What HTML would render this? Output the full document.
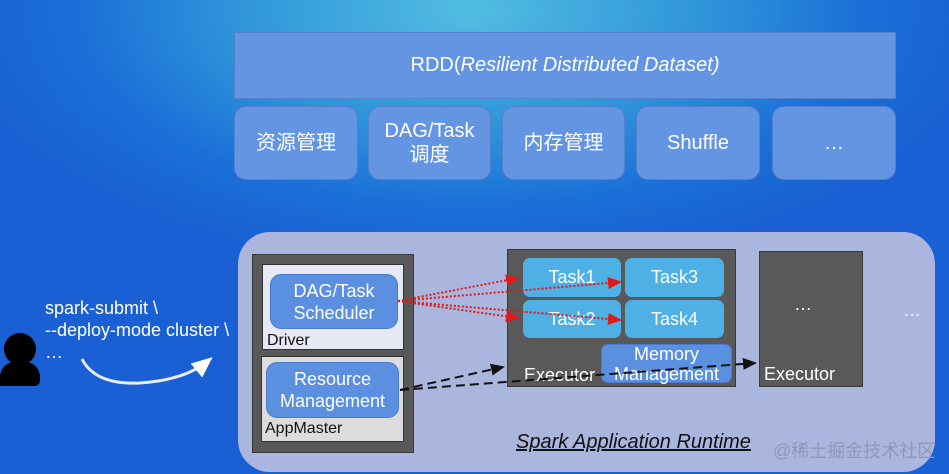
<!DOCTYPE html>
<html><head><meta charset="utf-8"><style>
*{margin:0;padding:0;box-sizing:border-box}
body{width:949px;height:474px;overflow:hidden;position:relative;font-family:"Liberation Sans","Noto Sans CJK SC",sans-serif;
background:radial-gradient(ellipse 520px 260px at 470px 10px,#52bde2 0%,#2f95da 45%,#1b70d8 75%,#1a60d4 100%);}
.a{position:absolute}
.bx{position:absolute;background:#6495e2;border:1px solid #5580cc;color:#fff;display:flex;align-items:center;justify-content:center;text-align:center}
.sm{border-radius:12px;font-size:20px;line-height:24px}
.dk{position:absolute;background:#595959;border:1px solid #3a3a3a}
.lt{position:absolute;border:1px solid #333}
.rb{position:absolute;background:#5b8fe0;border:1px solid #4a7bd0;border-radius:11px;color:#fff;font-size:18px;line-height:22px;display:flex;align-items:center;justify-content:center;text-align:center}
.tk{position:absolute;background:#4fb0e6;border-radius:7px;color:#fff;font-size:18px;display:flex;align-items:center;justify-content:center}
.wt{color:#fff;font-size:18px}
</style></head><body>
<div class="bx" style="left:234px;top:32px;width:662px;height:67px;font-size:20px">RDD(<i>Resilient Distributed Dataset)</i></div>
<div class="bx sm" style="left:234px;top:106px;width:124px;height:74px">资源管理</div>
<div class="bx sm" style="left:368px;top:106px;width:123px;height:74px">DAG/Task<br>调度</div>
<div class="bx sm" style="left:502px;top:106px;width:123px;height:74px">内存管理</div>
<div class="bx sm" style="left:636px;top:106px;width:124px;height:74px">Shuffle</div>
<div class="bx sm" style="left:772px;top:106px;width:124px;height:74px">…</div>

<div class="a" style="left:238px;top:232px;width:697px;height:240px;background:#abb6de;border-radius:32px"></div>

<div class="dk" style="left:252px;top:254px;width:162px;height:199px"></div>
<div class="lt" style="left:262px;top:264px;width:142px;height:86px;background:#e6e9f4"></div>
<div class="a" style="left:267px;top:332px;font-size:16px;color:#111">Driver</div>
<div class="rb" style="left:270px;top:274px;width:128px;height:55px">DAG/Task<br>Scheduler</div>
<div class="lt" style="left:261px;top:356px;width:143px;height:86px;background:#dcdcdc"></div>
<div class="a" style="left:265px;top:420px;font-size:16px;color:#111">AppMaster</div>
<div class="rb" style="left:266px;top:362px;width:133px;height:56px">Resource<br>Management</div>

<div class="dk" style="left:507px;top:249px;width:229px;height:138px"></div>
<div class="tk" style="left:523px;top:258px;width:98px;height:39px">Task1</div>
<div class="tk" style="left:625px;top:258px;width:99px;height:39px">Task3</div>
<div class="tk" style="left:523px;top:300px;width:98px;height:38px">Task2</div>
<div class="tk" style="left:625px;top:300px;width:99px;height:38px">Task4</div>
<div class="rb" style="left:601px;top:344px;width:131px;height:39px;border-radius:7px;line-height:20px">Memory<br>Management</div>
<div class="a wt" style="left:524px;top:365px">Executor</div>

<div class="dk" style="left:759px;top:251px;width:104px;height:136px"></div>
<div class="a wt" style="left:794px;top:294px">…</div>
<div class="a wt" style="left:764px;top:364px">Executor</div>
<div class="a wt" style="left:903px;top:300px">…</div>

<div class="a" style="left:516px;top:431px;font-size:20px;font-style:italic;text-decoration:underline;color:#111">Spark Application Runtime</div>
<div class="a" style="left:773px;top:437px;font-size:18px;color:#8e98b8">@稀土掘金技术社区</div>

<div class="a" style="left:45px;top:297px;font-size:18px;line-height:22px;color:#fff">spark-submit \<br>--deploy-mode cluster \<br>…</div>

<svg class="a" style="left:0;top:0" width="949" height="474">
<defs>
<marker id="r" markerWidth="8" markerHeight="8" refX="6" refY="3" orient="auto"><path d="M0,0L7,3L0,6z" fill="#e01818"/></marker>
<marker id="k" markerWidth="8" markerHeight="8" refX="6" refY="3" orient="auto"><path d="M0,0L7,3L0,6z" fill="#111"/></marker>
<marker id="w" markerWidth="8" markerHeight="8" refX="5" refY="3" orient="auto"><path d="M0,0L7,3L0,6z" fill="#fff"/></marker>
</defs>
<g stroke="#e01818" stroke-width="2" stroke-dasharray="2,2" fill="none">
<line x1="398" y1="301" x2="518" y2="278" marker-end="url(#r)"/>
<line x1="398" y1="301" x2="620" y2="282" marker-end="url(#r)"/>
<line x1="398" y1="301" x2="518" y2="318" marker-end="url(#r)"/>
<line x1="398" y1="301" x2="620" y2="320" marker-end="url(#r)"/>
</g>
<g stroke="#111" stroke-width="2" stroke-dasharray="9,5" fill="none">
<line x1="400" y1="390" x2="503" y2="367" marker-end="url(#k)"/>
<line x1="400" y1="390" x2="755" y2="363" marker-end="url(#k)"/>
</g>
<path d="M82,359 Q95,385 140,383 Q185,380 208,361" stroke="#e8eef8" stroke-width="3" fill="none" marker-end="url(#w)"/>
<circle cx="20" cy="349" r="16" fill="#000"/>
<path d="M0,386 L0,375 Q3,361 20,361 Q37,361 40,375 L40,380 Q40,386 34,386 L0,386z" fill="#000"/>
</svg>
</body></html>
